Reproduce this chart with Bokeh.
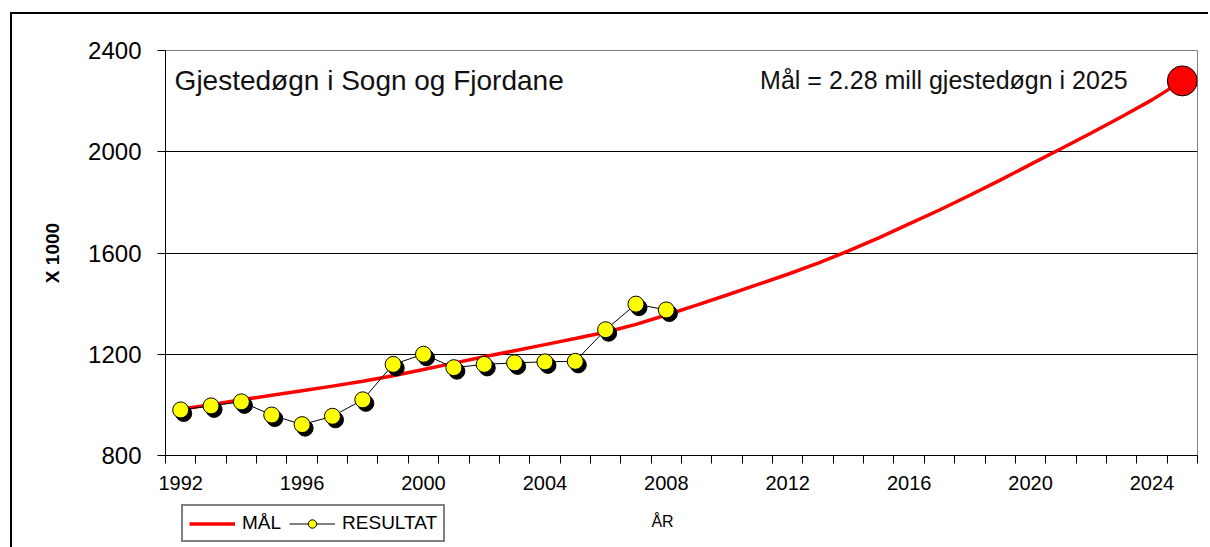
from bokeh.plotting import figure
from bokeh.models import (Range1d, FixedTicker, Legend, LegendItem, Label,
                          ColumnDataSource)
from bokeh.layouts import column
from bokeh.transform import dodge
from bokeh.embed import file_html
from bokeh.resources import INLINE

# ---- data ----
mal_years = list(range(1992, 2026))
mal_values = [983, 1001, 1020, 1038, 1056, 1074, 1093, 1115, 1140, 1165,
              1190, 1214, 1238, 1262, 1287, 1318, 1355, 1394, 1434, 1475,
              1516, 1560, 1608, 1660, 1715, 1770, 1828, 1888, 1950, 2012,
              2074, 2138, 2205, 2280]
res_years = list(range(1992, 2009))
res_values = [980, 996, 1012, 960, 922, 955, 1020, 1160, 1200, 1147,
              1160, 1166, 1170, 1172, 1297, 1398, 1375]
x_tick_labels = [1992, 1996, 2000, 2004, 2008, 2012, 2016, 2020, 2024]
y_ticks = [800, 1200, 1600, 2000, 2400]
title_text = "Gjestedøgn i Sogn og Fjordane"
goal_text = "Mål = 2.28 mill gjestedøgn i 2025"
legend_labels = ["MÅL", "RESULTAT"]
x_title = "ÅR"
y_title = "X 1000"

FONT = "Liberation Sans"
RED = "#FF0000"
YELLOW = "#FFFF00"

# ---- main chart ----
p = figure(width=1196, height=486, output_backend="svg", toolbar_location=None,
           x_range=Range1d(1991.5, 2025.5), y_range=Range1d(800, 2400),
           min_border_left=153, min_border_right=11, min_border_top=36,
           min_border_bottom=45)
p.background_fill_color = "white"
p.border_fill_color = "white"
p.outline_line_color = "#808080"
p.outline_line_width = 1

p.xgrid.visible = False
p.ygrid.ticker = FixedTicker(ticks=[1200, 1600, 2000])
p.ygrid.grid_line_color = "black"
p.ygrid.grid_line_width = 1

xa = p.xaxis[0]
xa.ticker = FixedTicker(ticks=x_tick_labels,
                        minor_ticks=[y - 0.5 for y in mal_years] + [2025.5])
xa.major_tick_line_color = None
xa.major_tick_out = 8
xa.major_tick_in = 0
xa.minor_tick_out = 8
xa.minor_tick_in = 0
xa.minor_tick_line_color = "black"
xa.axis_line_color = "black"
xa.major_label_text_font = FONT
xa.major_label_text_font_size = "20px"
xa.major_label_text_color = "black"
xa.major_label_standoff = 12

ya = p.yaxis[0]
ya.ticker = FixedTicker(ticks=y_ticks)
ya.minor_tick_line_color = None
ya.major_tick_out = 8
ya.major_tick_in = 0
ya.major_tick_line_color = "black"
ya.axis_line_color = "black"
ya.major_label_text_font = FONT
ya.major_label_text_font_size = "24px"
ya.major_label_text_color = "black"
ya.major_label_standoff = 16
ya.axis_label = y_title
ya.axis_label_text_font = FONT
ya.axis_label_text_font_style = "bold"
ya.axis_label_text_font_size = "19px"
ya.axis_label_text_color = "black"
ya.axis_label_standoff = 22

mal_src = ColumnDataSource(dict(x=mal_years, y=mal_values))
res_src = ColumnDataSource(dict(x=res_years, y=res_values))
goal_src = ColumnDataSource(dict(x=mal_years[-1:], y=mal_values[-1:]))

p.line("x", "y", source=mal_src, line_color=RED, line_width=3.5)
p.line("x", "y", source=res_src, line_color="black", line_width=1)
p.scatter(dodge("x", 0.1, range=p.x_range), dodge("y", -14, range=p.y_range),
          source=res_src, size=16, fill_color="black", line_color="black")
p.scatter("x", "y", source=res_src, size=16, fill_color=YELLOW,
          line_color="black", line_width=1)
p.scatter("x", "y", source=goal_src, size=30, fill_color=RED,
          line_color="black", line_width=1)

p.add_layout(Label(x=1991.8, y=2282, text=title_text, text_font=FONT,
                   text_font_size="28px", text_color="#111111",
                   text_baseline="middle", text_align="left"))
p.add_layout(Label(x=2023.2, y=2282, text=goal_text, text_font=FONT,
                   text_font_size="25px", text_color="#111111",
                   text_baseline="middle", text_align="right"))

# ---- bottom strip: legend and x title (frame aligned with main frame) ----
p2 = figure(width=1196, height=47, output_backend="svg", toolbar_location=None,
            x_range=Range1d(0, 1), y_range=Range1d(0, 1),
            x_axis_location=None, y_axis_location=None, min_border=0)
p2.outline_line_color = None
p2.grid.visible = False
p2.background_fill_color = "white"
p2.border_fill_color = "white"
# legend samples (kept outside the visible range)
k_mal = p2.line(x=[-5, -4], y=[-5, -4], line_color=RED, line_width=3.5)
k_res_line = p2.line(x=[-5, -4], y=[-5, -4], line_color="black", line_width=1)
k_res_pts = p2.scatter(x=[-5], y=[-5], size=10, fill_color=YELLOW,
                       line_color="black", line_width=1)

legend = Legend(items=[LegendItem(label=legend_labels[0], renderers=[k_mal]),
                       LegendItem(label=legend_labels[1],
                                  renderers=[k_res_line, k_res_pts])],
                orientation="horizontal", location=(16, 5))
legend.label_text_font = FONT
legend.label_text_font_size = "19px"
legend.label_text_color = "black"
legend.glyph_width = 46
legend.glyph_height = 21
legend.label_height = 21
legend.label_standoff = 7
legend.spacing = 8
legend.padding = 6
legend.margin = 0
legend.border_line_color = "black"
legend.border_line_width = 2
legend.background_fill_color = "white"
legend.background_fill_alpha = 1
p2.add_layout(legend, "center")

p2.add_layout(Label(x=497, y=26, x_units="screen", y_units="screen",
                    text=x_title, text_font=FONT, text_font_size="16px",
                    text_color="black", text_baseline="middle",
                    text_align="center"))

# ---- outer frame: top and left lines ----
layout = column(p, p2, spacing=0,
                styles={"border-top": "2px solid black",
                        "border-left": "2px solid black",
                        "margin-left": "10px",
                        "margin-top": "12px"})

open("out.html", "w").write(file_html(layout, INLINE))
